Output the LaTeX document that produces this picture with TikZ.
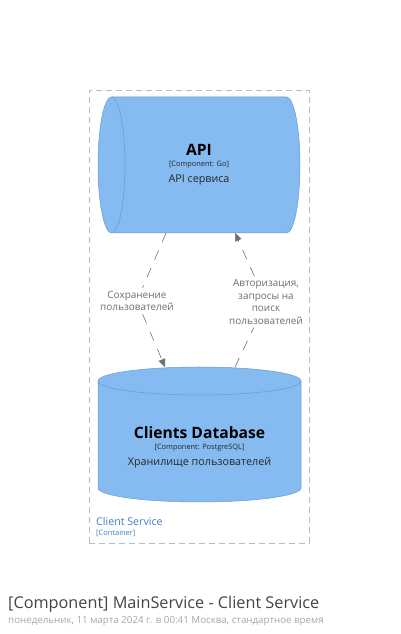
\documentclass[tikz,border=0pt]{standalone}
\usepackage{fontspec}
\setmainfont{Open Sans}
\usetikzlibrary{arrows.meta,calc,positioning}
\definecolor{compfill}{HTML}{85BBF0}
\definecolor{compline}{HTML}{6A9AD0}
\definecolor{boundline}{HTML}{B4BFCC}
\definecolor{boundtext}{HTML}{3E7CC4}
\definecolor{relline}{HTML}{707070}
\definecolor{reltext}{HTML}{6E6E6E}
\definecolor{footertext}{HTML}{444444}
\definecolor{datetext}{HTML}{A6A6A6}
\tikzset{
  cylbody/.style={fill=compfill, draw=compline, line width=0.5pt},
  cylrim/.style={draw=compline, line width=0.5pt},
  boundary/.style={draw=boundline, line width=0.6pt, dash pattern=on 6bp off 4bp},
  compname/.style={font=\fontsize{15.7}{18}\selectfont\bfseries, text=black, inner sep=0pt},
  comptech/.style={font=\fontsize{7.4}{8}\selectfont, text=black!85, inner sep=0pt},
  compdesc/.style={font=\fontsize{10.8}{12}\selectfont, text=black!85, inner sep=0pt},
  rel/.style={draw=relline, line width=0.6pt, dash pattern=on 10bp off 9bp,
    -{Triangle[length=8bp, width=7bp]}},
  rellabel/.style={font=\fontsize{10}{12.6}\selectfont, text=reltext, align=center, inner sep=3bp},
  boundname/.style={font=\fontsize{10.7}{12}\selectfont, text=boundtext, anchor=west, inner sep=0pt},
  boundtype/.style={font=\fontsize{7.5}{8}\selectfont, text=boundtext, anchor=west, inner sep=0pt}
}

\begin{document}
\begin{tikzpicture}[x=1bp,y=1bp]
\useasboundingbox (0,0) rectangle (400,634);

% --- Container boundary ---
\draw[boundary] (89,91) rectangle (309,544);
\node[boundname] (clientsvc) at (96,112) {Client Service};
\node[boundtype] (clientsvctype) at (96,101) {[Container]};

% --- API component (horizontal cylinder) ---
\draw[cylbody] (111.5,537) -- (286.5,537)
  arc[start angle=90, end angle=-90, x radius=13.5, y radius=68]
  -- (111.5,401)
  arc[start angle=270, end angle=90, x radius=13.5, y radius=68] -- cycle;
\draw[cylrim] (111.5,537) arc[start angle=90, end angle=-90, x radius=13.5, y radius=68];
\node[compname] (api) at (199,484) {API};
\node[comptech] (apitech) at (199,469) {[Component: Go]};
\node[compdesc] (apidesc) at (199,454) {API сервиса};

% --- Clients Database component (vertical cylinder) ---
\draw[cylbody] (98,253) -- (98,146)
  arc[start angle=180, end angle=360, x radius=101.5, y radius=14]
  -- (301,253)
  arc[start angle=0, end angle=180, x radius=101.5, y radius=14] -- cycle;
\draw[cylrim] (98,253) arc[start angle=180, end angle=360, x radius=101.5, y radius=14];
\node[compname] (clientsdb) at (199.5,201) {Clients Database};
\node[comptech] (clientsdbtech) at (199.5,186) {[Component: PostgreSQL]};
\node[compdesc] (clientsdbdesc) at (199.5,171) {Хранилище пользователей};

% --- Connector ends ---
\coordinate (apisave) at (166,401);
\coordinate (apiauth) at (235,401);
\coordinate (dbsave) at (165,267);
\coordinate (dbauth) at (235,267);

% --- Relationships ---
\node[rellabel] (saveusers) at (137,333) {Сохранение\\пользователей};
\node[rellabel] (authquery) at (266,332) {Авторизация,\\запросы на\\поиск\\пользователей};
\draw[rel] (apisave) -- (saveusers) -- (dbsave);
\draw[rel] (dbauth) -- (authquery) -- (apiauth);

% --- Footer ---
\node[font=\fontsize{16.3}{19}\selectfont, text=footertext, anchor=west, inner sep=0pt] (title) at (8,30)
  {[Component] MainService - Client Service};
\node[font=\fontsize{9.8}{11}\selectfont, text=datetext, anchor=west, inner sep=0pt] (date) at (8,13)
  {понедельник, 11 марта 2024 г. в 00:41 Москва, стандартное время};

\end{tikzpicture}
\end{document}
